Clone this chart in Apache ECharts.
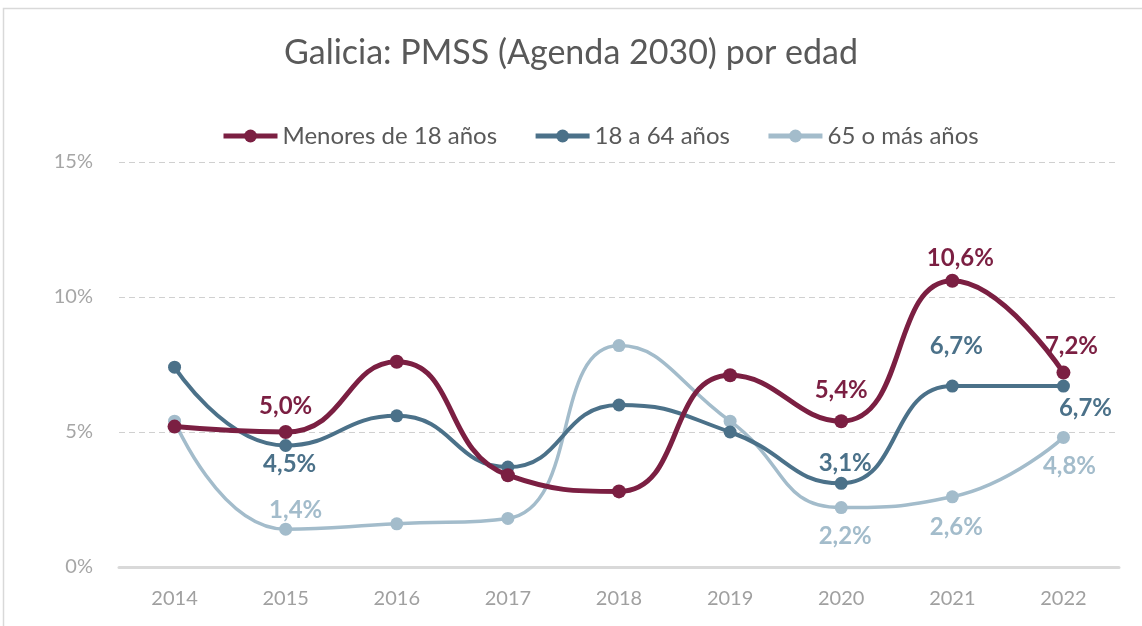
<!DOCTYPE html>
<html><head><meta charset="utf-8">
<script src="https://cdn.jsdelivr.net/npm/echarts@6/dist/echarts.min.js"></script>
<style>html,body{margin:0;padding:0;background:#fff}#c{width:1142px;height:626px}</style>
</head><body><div id="c"></div>
<script>
const years = ['2014','2015','2016','2017','2018','2019','2020','2021','2022'];
const seriesNames = ['Menores de 18 años','18 a 64 años','65 o más años'];
const menores = [5.2, 5.0, 7.6, 3.4, 2.8, 7.1, 5.4, 10.6, 7.2];
const adultos = [7.4, 4.5, 5.6, 3.7, 6.0, 5.0, 3.1, 6.7, 6.7];
const mayores = [5.4, 1.4, 1.6, 1.8, 8.2, 5.4, 2.2, 2.6, 4.8];
const yTicks = [0, 5, 10, 15];

const colors = ['#7b1f42', '#4b7189', '#a3bccb'];
const FONT = 'Lato, "Open Sans", sans-serif';

// label placement (style only): index -> [position, distance, dx]
const labelStyle = [
  {1:['top',7,0], 6:['top',12,0], 7:['top',4,8], 8:['top',7,8]},
  {1:['bottom',0,4], 6:['top',2,4], 7:['top',21,4], 8:['bottom',4,22]},
  {1:['top',0,10], 6:['bottom',10,4], 7:['bottom',12,4], 8:['bottom',10,6]}
];
const fmt = v => v.toFixed(1).replace('.', ',') + '%';

function build(vals, si, lw, ss) {
  return {
    name: seriesNames[si], type: 'line', smooth: 0.5,
    symbol: 'circle', symbolSize: ss,
    lineStyle: {width: lw, color: colors[si]},
    itemStyle: {color: colors[si]},
    z: 10 - si,
    data: vals.map((v, i) => {
      const ls = labelStyle[si][i];
      const d = {value: v};
      if (ls) {
        d.label = {show: true, position: ls[0], distance: ls[1], offset: [ls[2], 0],
          formatter: () => fmt(v), color: colors[si], fontSize: 24, fontWeight: 'bold', fontFamily: FONT};
      }
      return d;
    })
  };
}

const chart = echarts.init(document.getElementById('c'));
chart.setOption({
  animation: false,
  backgroundColor: '#fff',
  graphic: [{type: 'rect', shape: {x: 3.5, y: 8.5, width: 1160, height: 640},
    style: {fill: 'none', stroke: '#d9d9d9', lineWidth: 1.5}, silent: true}],
  title: {text: 'Galicia: PMSS (Agenda 2030) por edad', left: 'center', top: 31,
    textStyle: {fontFamily: FONT, fontSize: 34, fontWeight: 'normal', color: '#595959'}},
  legend: {top: 119, left: 216, itemWidth: 54, itemHeight: 16, itemGap: 36,
    lineStyle: {width: 5},
    textStyle: {fontFamily: FONT, fontSize: 24, color: '#595959'},
    data: seriesNames},
  grid: {left: 119, right: 23, top: 162, bottom: 59, containLabel: false},
  xAxis: {type: 'category', data: years, boundaryGap: true,
    axisLine: {lineStyle: {color: '#d9d9d9', width: 3}},
    axisTick: {show: false},
    axisLabel: {fontFamily: FONT, fontSize: 20, color: '#a0a0a0', margin: 22}},
  yAxis: {type: 'value', min: yTicks[0], max: yTicks[yTicks.length-1], interval: 5,
    axisLine: {show: false}, axisTick: {show: false},
    axisLabel: {fontFamily: FONT, fontSize: 20, color: '#a6a6a6', margin: 26, formatter: v => v + '%'},
    splitLine: {lineStyle: {color: '#d0d0d0', type: [6, 4], width: 1}}},
  series: [
    build(menores, 0, 5, 14),
    build(adultos, 1, 4, 13),
    build(mayores, 2, 3.5, 13)
  ]
});
</script></body></html>
